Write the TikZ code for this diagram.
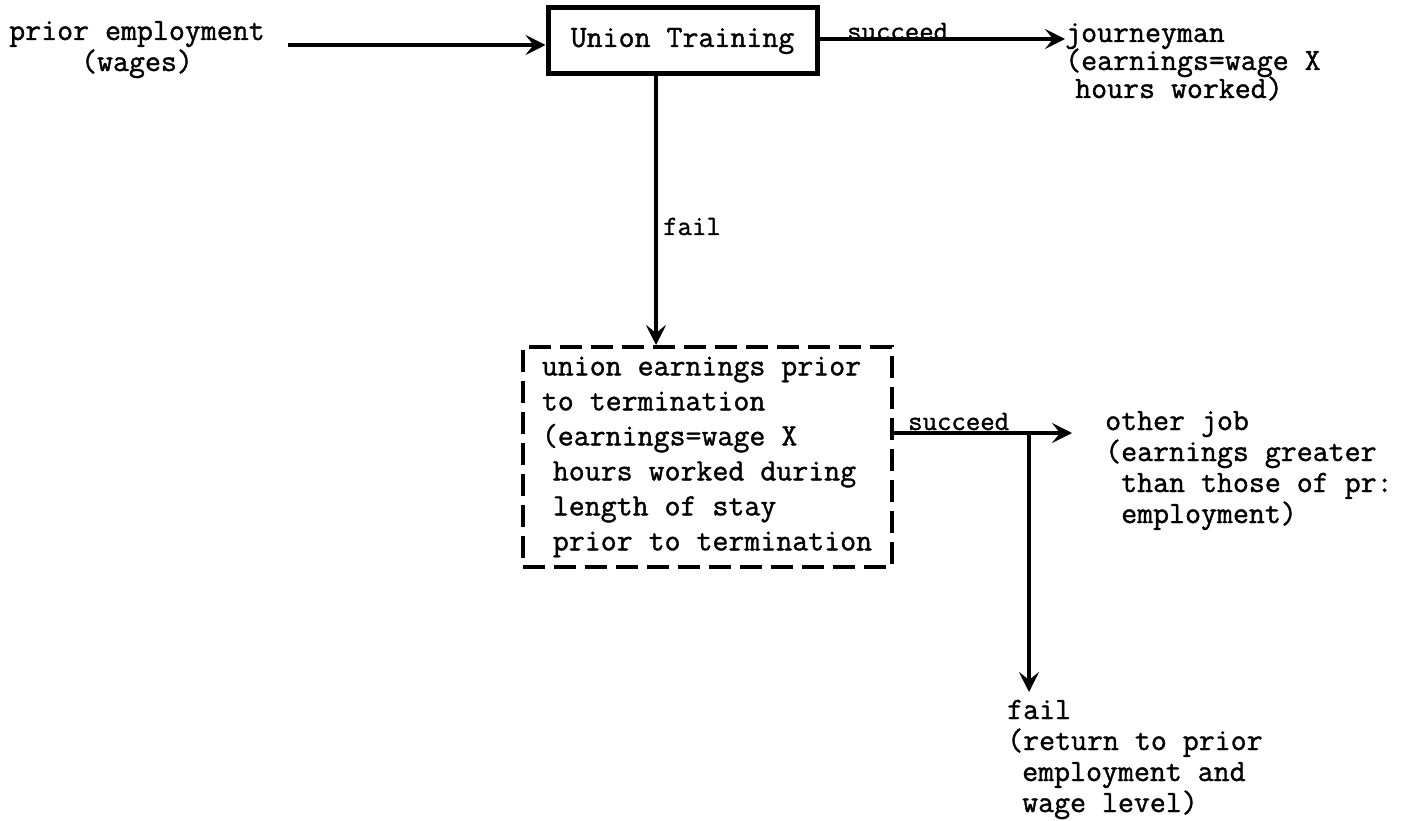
\documentclass[tikz,border=0pt]{standalone}
\usepackage{fontspec}
\newfontfamily\tw{Latin Modern Mono}[FakeBold=1.2]
\usetikzlibrary{arrows.meta}
\newcommand\tightlines{\lineskiplimit=-50pt\relax}
\begin{document}
\begin{tikzpicture}[x=1pt,y=-1pt,
  txt/.style={font=\tw\fontsize{31}{31}\selectfont\tightlines, inner sep=0pt, align=left, anchor=base west},
  lbl/.style={font=\tw\fontsize{28}{28}\selectfont, inner sep=0pt, anchor=base west},
  arr/.style={line width=3.8pt, -{Stealth[length=20pt,width=20pt,inset=8pt]}},
  solidbox/.style={draw, line width=5pt, minimum width=269pt, minimum height=66pt, inner sep=0pt, font=\tw\fontsize{31}{31}\selectfont},
  dashbox/.style={draw, line width=4pt, dash pattern=on 22pt off 9pt, minimum width=369pt, minimum height=220pt, inner sep=0pt, align=left, font=\tw\fontsize{31}{35}\selectfont\tightlines}
]
\fill[white] (0,0) rectangle (1406,821);
\useasboundingbox (0,0) rectangle (1406,821);

% multi-line texts are placed by the baseline of their last line
\node[txt, align=center, anchor=base] (pe) at (137,71) {prior employment\\(wages)};
\node[solidbox] (ut) at (682.5,41) {Union Training};
\node[txt, font=\tw\fontsize{31}{28}\selectfont\tightlines] (jm) at (1065,98) {journeyman\\(earnings=wage X\\\hspace*{10pt}hours worked)};
\node[dashbox] (db) at (707,457) {union earnings prior\\to termination\\(earnings=wage X\\\hspace*{11pt}hours worked during\\\hspace*{11pt}length of stay\\\hspace*{11pt}prior to termination};
\node[txt] (oj) at (1105,523) {other job\\(earnings greater\\\hspace*{16pt}than those of pr:\\\hspace*{16pt}employment)};
\node[txt] (fb) at (1007,812) {fail\\(return to prior\\\hspace*{15pt}employment and\\\hspace*{15pt}wage level)};

\node[lbl] (ls1) at (847,40) {succeed};
\node[lbl] (lf1) at (663,235) {fail};
\node[lbl] (ls2) at (908,430) {succeed};

\coordinate (a0) at (288,45);
\coordinate (fx) at (656,0);
\coordinate (j2) at (1029,433);
\coordinate (t2) at (1072,433);
\coordinate (t3) at (1029,692);

\draw[arr] (a0) -- (a0 -| ut.west);
\draw[arr] ([yshift=2pt]ut.east) -- ([yshift=2pt]ut.east -| jm.west);
\draw[arr, line width=3.2pt] (ut.south -| fx) -- (db.north -| fx);
\draw[arr] (db.east |- j2) -- (t2);
\draw[arr] (j2) -- (t3);
\end{tikzpicture}
\end{document}
